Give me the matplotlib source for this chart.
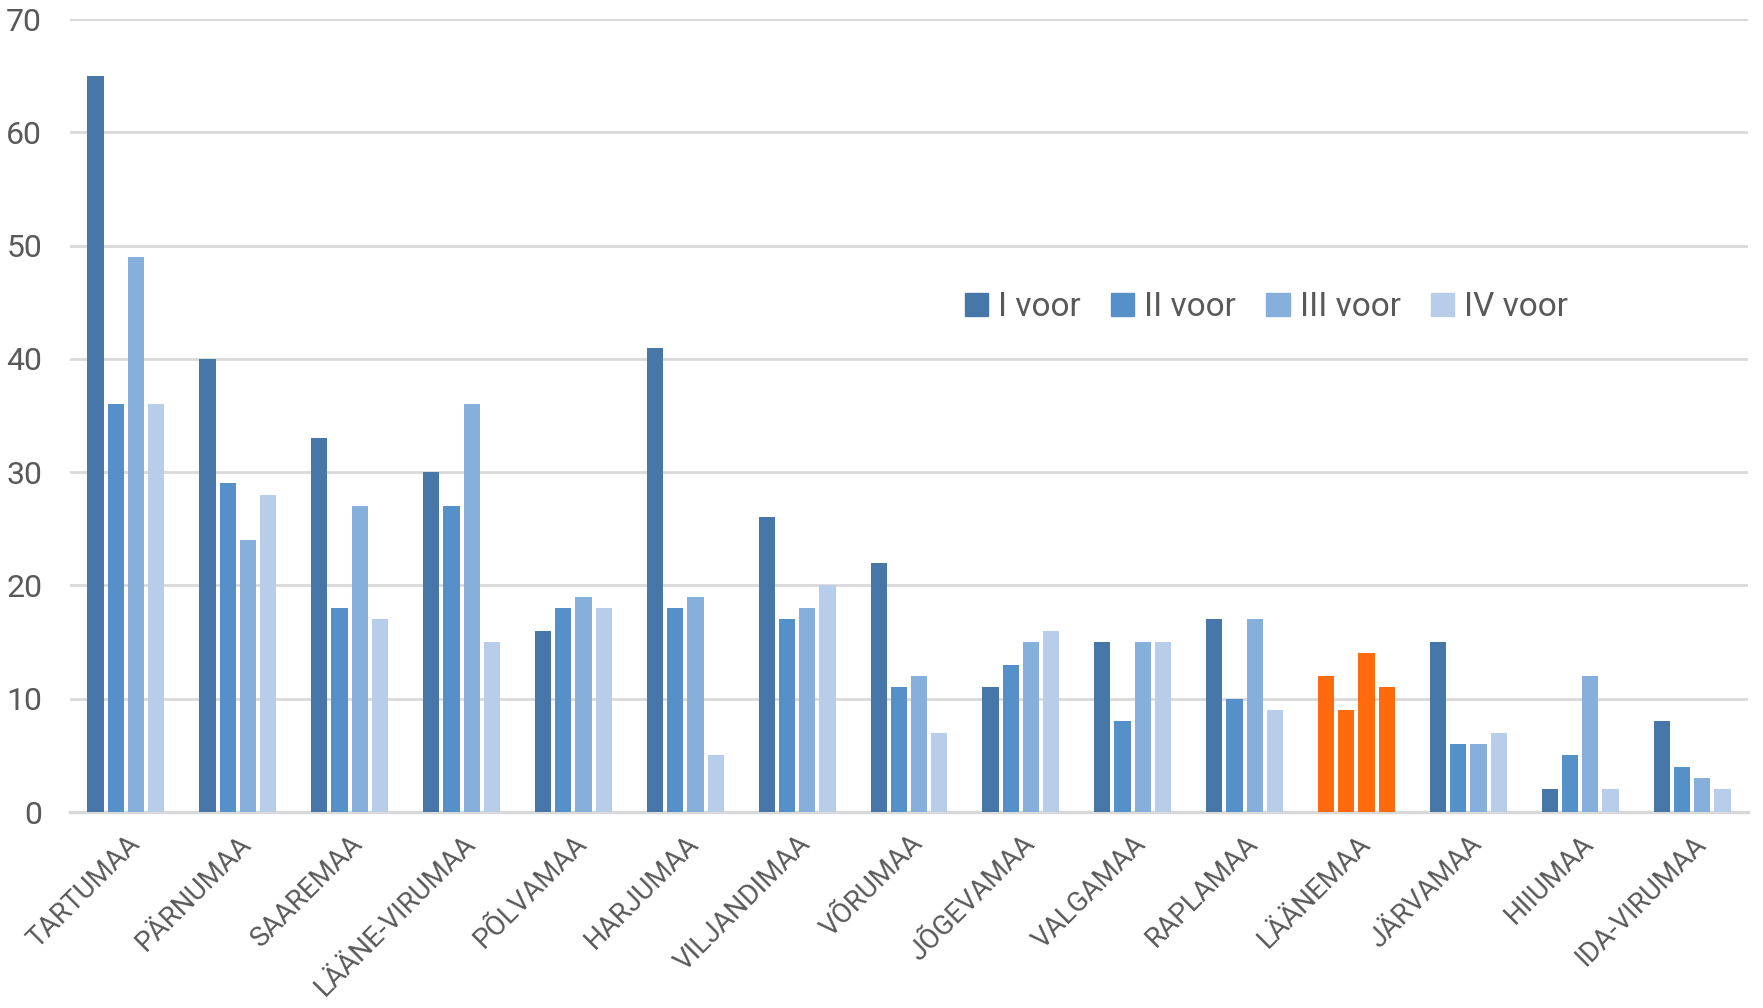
import numpy as np
import matplotlib.pyplot as plt
from matplotlib.patches import Patch

plt.rcParams['font.family'] = ['Roboto', 'DejaVu Sans']

counties = ["TARTUMAA", "PÄRNUMAA", "SAAREMAA", "LÄÄNE-VIRUMAA", "PÕLVAMAA",
            "HARJUMAA", "VILJANDIMAA", "VÕRUMAA", "JÕGEVAMAA", "VALGAMAA",
            "RAPLAMAA", "LÄÄNEMAA", "JÄRVAMAA", "HIIUMAA", "IDA-VIRUMAA"]
voor_1 = [65, 40, 33, 30, 16, 41, 26, 22, 11, 15, 17, 12, 15, 2, 8]
voor_2 = [36, 29, 18, 27, 18, 18, 17, 11, 13, 8, 10, 9, 6, 5, 4]
voor_3 = [49, 24, 27, 36, 19, 19, 18, 12, 15, 15, 17, 14, 6, 12, 3]
voor_4 = [36, 28, 17, 15, 18, 5, 20, 7, 16, 15, 9, 11, 7, 2, 2]
series_names = ["I voor", "II voor", "III voor", "IV voor"]
highlight = "LÄÄNEMAA"

colors = ["#4677A8", "#5591C8", "#86AFDC", "#B7CDE9"]
orange = "#FF6A0D"
text_col = "#595959"

fig = plt.figure(figsize=(17.63, 10.08), dpi=100)
ax = fig.add_axes([70 / 1763, 1 - 812 / 1008, 1678 / 1763, 793 / 1008])

x = np.arange(len(counties))
step = 0.181
series = [voor_1, voor_2, voor_3, voor_4]
for i, vals in enumerate(series):
    cols = [orange if c == highlight else colors[i] for c in counties]
    ax.bar(x + (i - 1.5) * step, vals, width=0.145, color=cols, zorder=3)

ax.set_xlim(-0.5, len(counties) - 0.5)
ax.set_ylim(0, 70)
ax.set_yticks(range(0, 71, 10))
ax.yaxis.grid(True, color="#D9D9D9", linewidth=2, zorder=0)
for s in ["top", "right", "left"]:
    ax.spines[s].set_visible(False)
ax.spines["bottom"].set_color("#D9D9D9")
ax.spines["bottom"].set_linewidth(2.5)
ax.tick_params(axis="y", length=0, pad=20, labelsize=23, labelcolor=text_col)
ax.tick_params(axis="x", length=0, pad=13, labelsize=20, labelcolor=text_col)
ax.set_xticks(x)
ax.set_xticklabels(counties, rotation=45, ha="right", rotation_mode="anchor")

handles = [Patch(color=c) for c in colors]
ax.legend(handles, series_names, loc="center", bbox_to_anchor=(0.713, 0.637),
          ncol=4, frameon=False, fontsize=24, labelcolor=text_col,
          handlelength=0.7, handleheight=0.7, handletextpad=0.3, columnspacing=0.9)

fig.savefig("out.png")
